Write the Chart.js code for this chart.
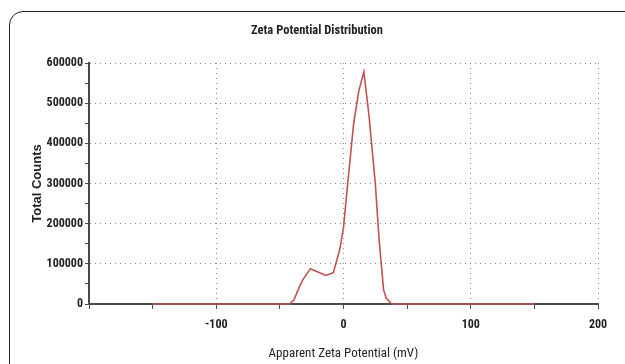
<!DOCTYPE html>
<html>
<head>
<meta charset="utf-8">
<script src="https://cdn.jsdelivr.net/npm/chart.js@4/dist/chart.umd.min.js"></script>
<style>
  html, body { margin: 0; padding: 0; background: #fff; }
  #wrap { position: relative; width: 625px; height: 364px; overflow: hidden; }
  /* rounded panel frame, cut off at the right and bottom like the source */
  #frame {
    position: absolute; left: 9px; top: 11px; width: 700px; height: 420px;
    border: 1.5px solid #222; border-radius: 14px; box-sizing: border-box;
  }
  #chart { position: absolute; left: 0; top: 0; }
</style>
</head>
<body>
<div id="wrap">
  <div id="frame"></div>
  <canvas id="chart" width="625" height="364"></canvas>
</div>
<script>
// ------------------------------------------------------------------
// Data
// ------------------------------------------------------------------
const zeta   = [-150, -42.5, -39, -35, -32, -26, -21, -14, -8, -3, 0, 3, 8, 12, 16, 20, 25, 28, 31.5, 33.5, 38, 150];
const counts = [0, 0, 10000, 40000, 60000, 88000, 81000, 71000, 78000, 135000, 190000, 290000, 450000, 530000, 578000, 470000, 300000, 160000, 35000, 15000, 0, 0];

const chartTitle = "Zeta Potential Distribution";
const xTitle = "Apparent Zeta Potential (mV)";
const yTitle = "Total Counts";

const xMin = -200, xMax = 200, xStep = 50;
const yMin = 0, yMax = 600000, yStep = 50000;

const NARROW = "'Roboto Condensed', 'Liberation Sans', sans-serif";
const DOT = "#8a8a8a";
const AXIS = "#4a4a4a";

const points = zeta.map((x, i) => ({ x, y: counts[i] }));

// Title is centred over the whole panel (frame), not the plot area.
const panelTitle = {
  id: "panelTitle",
  afterDraw(chart) {
    const ctx = chart.ctx;
    ctx.save();
    ctx.font = "bold 12.5px " + NARROW;
    ctx.fillStyle = "#222";
    ctx.textAlign = "center";
    ctx.textBaseline = "middle";
    ctx.fillText(chartTitle, (chart.width + 9) / 2, 31);
    ctx.restore();
  },
};

new Chart(document.getElementById("chart"), {
  type: "line",
  data: {
    datasets: [{
      data: points,
      borderColor: "#c05252",
      borderWidth: 1.6,
      pointRadius: 0,
      tension: 0,
      fill: false,
      clip: 6,
    }],
  },
  plugins: [panelTitle],
  options: {
    responsive: false,
    animation: false,
    layout: { padding: { left: 0, right: 27, top: 63, bottom: 0 } },
    plugins: {
      legend: { display: false },
      tooltip: { enabled: false },
    },
    scales: {
      x: {
        type: "linear",
        min: xMin, max: xMax,
        afterFit: s => { s.height = 60; },
        ticks: {
          stepSize: xStep,
          padding: 9,
          color: "#222",
          font: { family: NARROW, size: 12, weight: "bold" },
          maxRotation: 0,
          callback: v => (v % 100 === 0 && v !== xMin) ? v : "",
        },
        grid: {
          color: c => (c.tick && c.tick.value % 100 === 0 && c.tick.value !== xMin) ? DOT : "transparent",
          tickColor: AXIS,
          tickLength: 5,
          lineWidth: 1,
        },
        border: { color: AXIS, width: 2, dash: [1, 4] },
        title: {
          display: true,
          text: xTitle,
          color: "#222",
          font: { family: NARROW, size: 13 },
          padding: { top: 0, bottom: 2 },
        },
      },
      y: {
        min: yMin, max: yMax,
        afterFit: s => { s.width = 89; },
        ticks: {
          stepSize: yStep,
          padding: 2,
          color: "#222",
          font: { family: NARROW, size: 12, weight: "bold" },
          callback: v => (v % 100000 === 0) ? v : "",
        },
        grid: {
          color: c => (c.tick && c.tick.value > 0 && c.tick.value % 100000 === 0) ? DOT : "transparent",
          tickColor: AXIS,
          tickLength: 4,
          lineWidth: 1,
        },
        border: { color: AXIS, width: 2, dash: [1, 4] },
        title: {
          display: true,
          text: yTitle,
          color: "#222",
          font: { family: "'Liberation Sans', Arial, sans-serif", size: 13, weight: "bold" },
          padding: { top: 30, bottom: 0 },
        },
      },
    },
  },
});
</script>
</body>
</html>
